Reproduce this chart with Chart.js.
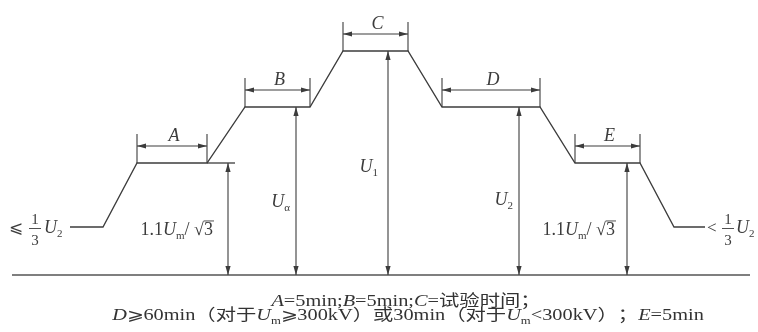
<!DOCTYPE html>
<html>
<head>
<meta charset="utf-8">
<script src="https://cdn.jsdelivr.net/npm/chart.js@4/dist/chart.umd.min.js"></script>
<style>
html,body{margin:0;padding:0;background:#fff;}
#wrap{width:758px;height:332px;}
</style>
</head>
<body>
<div id="wrap"><canvas id="c" width="758" height="332"></canvas></div>
<script>
// ---------- data (time axis in arbitrary units, voltage in arbitrary units) ----------
const profileTimes   = [70, 103, 137, 207, 245, 310, 343, 408, 442, 540, 575, 640, 674, 705];
const profileVoltage = [48, 48, 112, 112, 168, 168, 224, 224, 168, 168, 112, 112, 48, 48];
const extTimes   = [207, 235];
const extVoltage = [112, 112];
const axisTimes   = [12, 750];
const axisVoltage = [0, 0];

const intervalLabels = ['A', 'B', 'C', 'D', 'E'];
const intervalStart  = [137, 245, 343, 442, 575];
const intervalEnd    = [207, 310, 408, 540, 640];
const intervalLevel  = [112, 168, 224, 168, 112];

const arrowTimes  = [228, 296, 388, 519, 627];
const arrowLevels = [112, 168, 224, 168, 112];

// ---------- styling / layout (not data) ----------
const INK = '#3c3c3c';
const SERIF = '"Liberation Serif", "DejaVu Serif", "Noto Sans CJK SC", serif';

function pts(xs, ys){ return xs.map((x,i)=>({x:x, y:ys[i]})); }

function font(size, italic){ return (italic?'italic ':'') + size + 'px ' + SERIF; }

// rich text: segments {t, i (italic), sub, ov (overline)}
function drawRich(ctx, segs, x, y, align, size, hscale){
  const hs = hscale || 1;
  const parts = segs.map(s=>{
    const sz = s.sub ? Math.round(size*0.6) : size;
    const f = font(sz, s.i);
    ctx.font = f;
    return {s:s, f:f, sz:sz, w:ctx.measureText(s.t).width};
  });
  const total = parts.reduce((a,p)=>a+p.w,0);
  ctx.save();
  ctx.translate(x, 0);
  ctx.scale(hs, 1);
  let cx = align==='center' ? -total/2 : (align==='right' ? -total : 0);
  ctx.textBaseline = 'alphabetic';
  ctx.textAlign = 'left';
  parts.forEach(p=>{
    ctx.font = p.f;
    const yy = p.s.sub ? y + size*0.22 : y;
    ctx.fillText(p.s.t, cx, yy);
    if (p.s.ov){
      ctx.beginPath();
      ctx.lineWidth = 0.9;
      ctx.moveTo(cx, y - size*0.78);
      ctx.lineTo(cx + p.w + 1, y - size*0.78);
      ctx.stroke();
    }
    cx += p.w;
  });
  ctx.restore();
}

function head(ctx, x, y, dx, dy){
  const L = 9, W = 2.6;
  const bx = x - dx*L, by = y - dy*L;
  ctx.beginPath();
  ctx.moveTo(x, y);
  ctx.lineTo(bx - dy*W, by + dx*W);
  ctx.lineTo(bx + dy*W, by - dx*W);
  ctx.closePath();
  ctx.fill();
}

const sqrt3 = [{t:'√'},{t:'3', ov:true}];
const voltageLabels = [
  [{t:'1.1'},{t:'U',i:1},{t:'m',sub:1},{t:'/ '}].concat(sqrt3),
  [{t:'U',i:1},{t:'α',sub:1}],
  [{t:'U',i:1},{t:'1',sub:1}],
  [{t:'U',i:1},{t:'2',sub:1}],
  [{t:'1.1'},{t:'U',i:1},{t:'m',sub:1},{t:'/ '}].concat(sqrt3)
];
// label placement: right edge gap from arrow (px), baseline (px)
const labelGap = [15, 6, 10, 6, 12];
const labelBase = [235, 207, 172, 205, 235];

const annotate = {
  id: 'annotate',
  afterDatasetsDraw(chart){
    const ctx = chart.ctx, xs = chart.scales.x, ys = chart.scales.y;
    ctx.save();
    ctx.strokeStyle = INK; ctx.fillStyle = INK; ctx.lineWidth = 1.2;
    const y0 = ys.getPixelForValue(0);

    // interval dimension marks
    intervalLabels.forEach((lab,i)=>{
      const xa = xs.getPixelForValue(intervalStart[i]);
      const xb = xs.getPixelForValue(intervalEnd[i]);
      const yl = ys.getPixelForValue(intervalLevel[i]);
      ctx.lineWidth = 1.1;
      ctx.beginPath();
      ctx.moveTo(xa, yl); ctx.lineTo(xa, yl-29);
      ctx.moveTo(xb, yl); ctx.lineTo(xb, yl-29);
      ctx.moveTo(xa, yl-17); ctx.lineTo(xb, yl-17);
      ctx.stroke();
      head(ctx, xa, yl-17, -1, 0);
      head(ctx, xb, yl-17, 1, 0);
      ctx.font = font(18, true);
      ctx.textAlign = 'center'; ctx.textBaseline = 'alphabetic';
      ctx.fillText(lab, (xa+xb)/2 + 2, yl-22);
    });

    // vertical voltage arrows
    arrowTimes.forEach((t,i)=>{
      const x = xs.getPixelForValue(t);
      const yt = ys.getPixelForValue(arrowLevels[i]);
      ctx.lineWidth = 1.1;
      ctx.beginPath(); ctx.moveTo(x, yt); ctx.lineTo(x, y0); ctx.stroke();
      head(ctx, x, yt, 0, -1);
      head(ctx, x, y0, 0, 1);
      drawRich(ctx, voltageLabels[i], x - labelGap[i], labelBase[i], 'right', 18);
    });

    // start / end level labels
    ctx.lineWidth = 0.9;
    // left: ⩽ 1/3 U2
    ctx.font = font(17, false); ctx.textAlign='left'; ctx.textBaseline='alphabetic';
    ctx.fillText('⩽', 9, 233);
    ctx.font = font(15, false); ctx.textAlign='center';
    ctx.fillText('1', 35, 224);
    ctx.fillText('3', 35, 245);
    ctx.beginPath(); ctx.moveTo(29, 228.5); ctx.lineTo(41, 228.5); ctx.stroke();
    drawRich(ctx, [{t:'U',i:1},{t:'2',sub:1}], 44, 233, 'left', 18);
    // right: < 1/3 U2
    ctx.font = font(17, false); ctx.textAlign='left';
    ctx.fillText('<', 707, 233);
    ctx.font = font(15, false); ctx.textAlign='center';
    ctx.fillText('1', 728, 224);
    ctx.fillText('3', 728, 245);
    ctx.beginPath(); ctx.moveTo(722, 228.5); ctx.lineTo(734, 228.5); ctx.stroke();
    drawRich(ctx, [{t:'U',i:1},{t:'2',sub:1}], 736, 233, 'left', 18);

    // caption (reference typesetting is horizontally widened)
    ctx.fillStyle = '#333';
    drawRich(ctx, [{t:'A',i:1},{t:'=5min;'},{t:'B',i:1},{t:'=5min;'},{t:'C',i:1},{t:'=试验时间；'}], 406, 306, 'center', 16, 1.27);
    drawRich(ctx, [{t:'D',i:1},{t:'⩾60min（对于'},{t:'U',i:1},{t:'m',sub:1},{t:'⩾300kV）或30min（对于'},{t:'U',i:1},{t:'m',sub:1},{t:'<300kV）；'},{t:'E',i:1},{t:'=5min'}], 408, 320, 'center', 16, 1.27);
    ctx.restore();
  }
};

const lineDs = (label, xs, ys) => ({
  label: label, data: pts(xs, ys), showLine: true, borderColor: INK, borderWidth: 1.3,
  pointRadius: 0, fill: false, tension: 0
});

new Chart(document.getElementById('c'), {
  type: 'scatter',
  data: { datasets: [
    lineDs('voltage profile', profileTimes, profileVoltage),
    lineDs('level extension', extTimes, extVoltage),
    Object.assign(lineDs('time axis', axisTimes, axisVoltage), {borderColor:'#555', borderWidth:1.6})
  ]},
  options: {
    responsive: false, animation: false, devicePixelRatio: 1,
    layout: { padding: 0 },
    plugins: { legend: {display:false}, tooltip: {enabled:false}, title:{display:false} },
    scales: {
      x: { type:'linear', min: 0, max: 758, display: false },
      y: { type:'linear', min: -57, max: 275, display: false }
    }
  },
  plugins: [annotate]
});
</script>
</body>
</html>
